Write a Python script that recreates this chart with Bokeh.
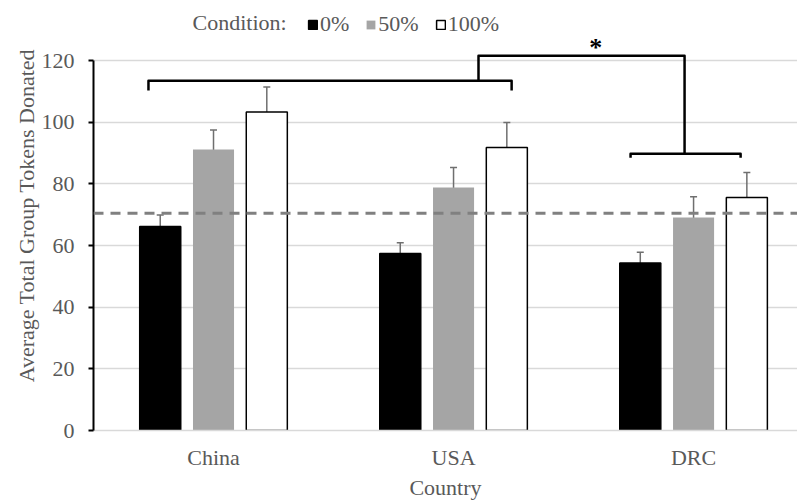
from bokeh.plotting import figure
from bokeh.models import (Range1d, FixedTicker, Whisker, TeeHead, Span, Legend,
                          LegendItem, Label, ColumnDataSource)
from bokeh.embed import file_html
from bokeh.resources import INLINE
from bokeh.core.properties import value

# ---- data ----
countries = ["China", "USA", "DRC"]
conditions = ["0%", "50%", "100%"]
means_0 = [66.2, 57.4, 54.3]
means_50 = [91.2, 78.8, 69.1]
means_100 = [103.3, 91.8, 75.6]
err_0 = [3.7, 3.5, 3.5]
err_50 = [6.3, 6.5, 6.7]
err_100 = [8.1, 8.1, 8.1]
reference_line = 70.5
y_ticks = [0, 20, 40, 60, 80, 100, 120]

# significance brackets (x in category units, y in tokens)
bracket_xs = [[0.229, 0.229, 1.742, 1.742],
              [1.604, 1.604, 2.4625, 2.4625],
              [2.2375, 2.2375, 2.696, 2.696]]
bracket_ys = [[110.3, 113.5, 113.5, 110.3],
              [113.5, 121.6, 121.6, 89.8],
              [88.5, 89.8, 89.8, 88.5]]
star_x = [2.092]
star_y = [124.3]
star_text = ["*"]

# ---- style ----
FONT = "Liberation Serif"
TXT = "#595959"
GRID = "#d9d9d9"
offsets = [-0.222, 0.0, 0.222]
bar_w = 0.171
fills = ["black", "#a5a5a5", "white"]
lines = ["black", None, "black"]

p = figure(width=797, height=502, output_backend="svg", toolbar_location=None,
           x_range=Range1d(0, 2.933), y_range=Range1d(0, 139.5),
           min_border_left=93, min_border_right=0, min_border_top=0,
           min_border_bottom=72)
p.outline_line_color = None
p.background_fill_color = "white"

renderers = []
for k, (m, e) in enumerate([(means_0, err_0), (means_50, err_50), (means_100, err_100)]):
    xs = [i + 0.5 + offsets[k] for i in range(len(countries))]
    src = ColumnDataSource(dict(x=xs, top=m, upper=[a + b for a, b in zip(m, e)],
                                lower=[a - b for a, b in zip(m, e)]))
    r = p.vbar(x="x", top="top", width=bar_w, bottom=0, source=src,
               fill_color=fills[k], line_color=lines[k], line_width=1.5)
    renderers.append(r)
    w = Whisker(base="x", upper="upper", lower="lower", source=src,
                line_color="#6f6f6f", line_width=1.5,
                upper_head=TeeHead(size=7, line_color="#6f6f6f", line_width=1.5),
                lower_head=TeeHead(size=7, line_color="#6f6f6f", line_width=1.5))
    p.add_layout(w)

p.add_layout(Span(location=reference_line, dimension="width", line_color="#808080",
                  line_width=3, line_dash="10 7"))

p.multi_line(xs=bracket_xs, ys=bracket_ys, line_color="black", line_width=2.5,
             line_join="round")
p.text(x=star_x, y=star_y, text=star_text, text_font=value(FONT),
       text_font_size="26px", text_font_style="bold", text_align="center",
       text_baseline="middle", text_color="black")

# axes
p.xaxis.ticker = FixedTicker(ticks=[i + 0.5 for i in range(len(countries))])
p.xaxis.major_label_overrides = {i + 0.5: c for i, c in enumerate(countries)}
p.xaxis.axis_line_color = GRID
p.xaxis.axis_line_width = 1.5
p.xaxis.major_tick_line_color = None
p.xaxis.minor_tick_line_color = None
p.xaxis.major_label_standoff = 8
p.xaxis.axis_label = "Country"
p.xaxis.axis_label_standoff = 2

p.yaxis.ticker = FixedTicker(ticks=y_ticks)
p.yaxis.bounds = (0, 120)
p.yaxis.axis_line_color = "black"
p.yaxis.axis_line_width = 2
p.yaxis.major_tick_line_color = "black"
p.yaxis.major_tick_line_width = 2
p.yaxis.major_tick_out = 5
p.yaxis.major_tick_in = 0
p.yaxis.minor_tick_line_color = None
p.yaxis.major_label_standoff = 14
p.yaxis.axis_label = "Average Total Group Tokens Donated"
p.yaxis.axis_label_standoff = 0

for ax in (p.xaxis, p.yaxis):
    ax.major_label_text_font = FONT
    ax.major_label_text_font_size = "22px"
    ax.major_label_text_color = TXT
    ax.axis_label_text_font = FONT
    ax.axis_label_text_font_size = "22px"
    ax.axis_label_text_color = TXT
    ax.axis_label_text_font_style = "normal"

p.xgrid.grid_line_color = None
p.ygrid.grid_line_color = GRID
p.ygrid.grid_line_width = 1.5

legend = Legend(items=[LegendItem(label=c, renderers=[r]) for c, r in zip(conditions, renderers)],
                orientation="horizontal", location=(214, 393),
                background_fill_alpha=0, border_line_color=None, padding=0, margin=0,
                spacing=16, label_standoff=2, glyph_width=11, glyph_height=11,
                label_text_font=FONT, label_text_font_size="22px",
                label_text_color=TXT)
p.add_layout(legend)
p.add_layout(Label(x=99, y=408, x_units="screen", y_units="screen", text="Condition:",
                   text_font=FONT, text_font_size="22px", text_color=TXT,
                   text_baseline="alphabetic"))

open("out.html", "w").write(file_html(p, INLINE))
